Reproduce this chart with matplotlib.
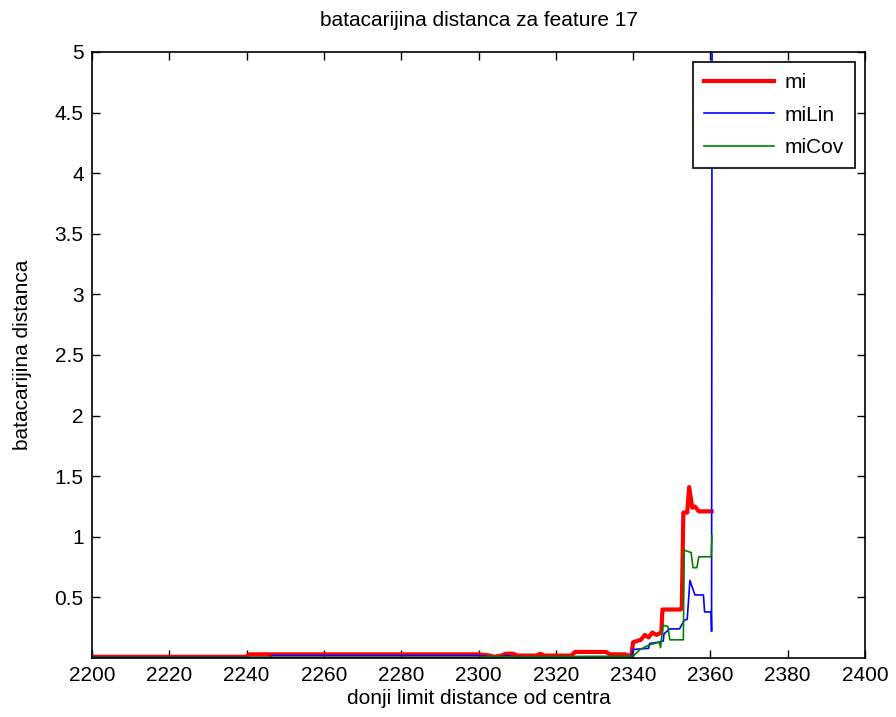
import matplotlib.pyplot as plt

plt.rcParams['font.family'] = ['Liberation Sans', 'DejaVu Sans']

# mi
x_mi = [2200, 2240, 2240.5, 2300, 2303, 2304, 2306, 2307, 2309, 2310, 2315, 2316, 2317,
        2324, 2325, 2333, 2334, 2338, 2339.5, 2340, 2342, 2343, 2344, 2345, 2346, 2347.3,
        2347.6, 2352.3, 2352.6, 2353, 2354, 2354.5, 2355.3, 2356, 2357, 2360.3]
y_mi = [0.01, 0.01, 0.03, 0.03, 0.02, 0.01, 0.02, 0.035, 0.035, 0.02, 0.02, 0.035, 0.02,
        0.02, 0.05, 0.05, 0.03, 0.03, 0.01, 0.13, 0.15, 0.19, 0.17, 0.21, 0.19, 0.21,
        0.40, 0.40, 0.42, 1.20, 1.20, 1.41, 1.24, 1.25, 1.21, 1.21]

# miLin
x_lin = [2200, 2246, 2246.5, 2300, 2305, 2307, 2310, 2338, 2339.5, 2340, 2344, 2344.3,
         2346.5, 2347.8, 2348, 2349.5, 2352, 2353.2, 2354, 2354.7, 2356, 2358.2, 2358.5,
         2360.2, 2360.3, 2360.6]
y_lin = [0.005, 0.005, 0.02, 0.02, 0.005, 0.02, 0.01, 0.01, 0.005, 0.07, 0.08, 0.12,
         0.13, 0.14, 0.20, 0.24, 0.24, 0.31, 0.32, 0.64, 0.52, 0.52, 0.38,
         0.38, 0.22, 12.0]

# miCov
x_cov = [2200, 2300, 2303, 2308, 2340, 2341.8, 2344.3, 2346.8, 2347.1, 2347.7, 2349,
         2349.5, 2353, 2353.2, 2355, 2355.5, 2356.5, 2357, 2360.2, 2360.4]
y_cov = [0.005, 0.005, 0.015, 0.01, 0.015, 0.07, 0.11, 0.13, 0.085, 0.27, 0.26,
         0.15, 0.15, 0.89, 0.87, 0.745, 0.745, 0.835, 0.835, 1.01]

fs = 15

fig = plt.figure(figsize=(8.96, 7.17), dpi=100)
ax = fig.add_axes([0.1027, 0.0823, 0.8627, 0.8452])

ax.plot(x_mi, y_mi, color='red', lw=3, label='mi')
ax.plot(x_lin, y_lin, color='blue', lw=1.2, label='miLin')
ax.plot(x_cov, y_cov, color='green', lw=1.2, label='miCov')

ax.set_xlim(2200, 2400)
ax.set_ylim(0, 5)
ax.set_xticks(range(2200, 2401, 20))
ax.set_yticks([0.5, 1, 1.5, 2, 2.5, 3, 3.5, 4, 4.5, 5])
ax.set_yticklabels(['0.5', '1', '1.5', '2', '2.5', '3', '3.5', '4', '4.5', '5'])
ax.tick_params(direction='in', top=True, right=True, labelsize=fs, length=6, width=1, pad=6)
for s in ax.spines.values():
    s.set_linewidth(1.2)

ax.set_title('batacarijina distanca za feature 17', fontsize=fs, pad=19)
ax.set_xlabel('donji limit distance od centra', fontsize=fs, labelpad=3)
ax.set_ylabel('batacarijina distanca', fontsize=fs, labelpad=16)

leg = ax.legend(loc='upper right', fontsize=fs, fancybox=False, framealpha=1,
                edgecolor='black', handlelength=3.4, borderaxespad=0.5,
                borderpad=0.5, labelspacing=0.66, handletextpad=0.5)
leg.get_frame().set_linewidth(1.2)

fig.savefig('out.png', dpi=100)
